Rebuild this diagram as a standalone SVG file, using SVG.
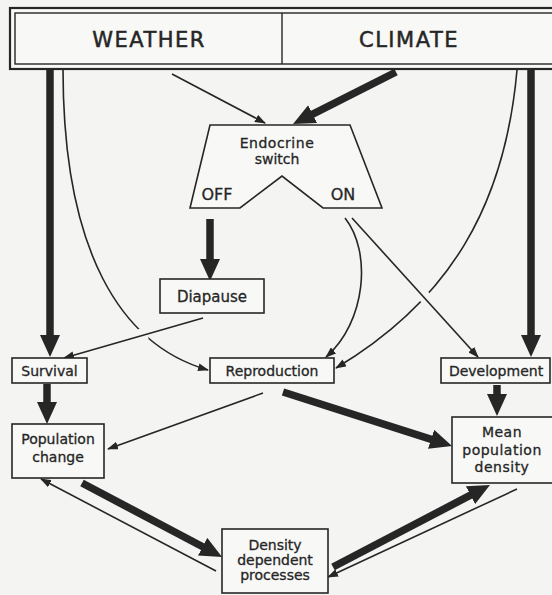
<svg xmlns="http://www.w3.org/2000/svg" width="552" height="595" viewBox="0 0 552 595">
<style>
.bg{fill:#f4f4f2}
.box{fill:#f8f8f6;stroke:#262626;stroke-width:1.6}
.t{font-family:"DejaVu Sans",sans-serif;font-size:14px;fill:#262626;stroke:#262626;stroke-width:0.3;text-anchor:middle}
.big{font-size:21px;letter-spacing:1.5px;stroke-width:0.5}
.thin{fill:none;stroke:#262626;stroke-width:1.6}
.thick{fill:none;stroke:#262626;stroke-width:7.5}
.halo{fill:none;stroke:#f4f4f2;stroke-width:12}
</style>
<defs>
<marker id="ah" viewBox="0 0 22 20" refX="6" refY="10" markerWidth="22" markerHeight="20" markerUnits="userSpaceOnUse" orient="auto">
<path d="M0,0 L22,10 L0,20 z" fill="#262626"/>
</marker>
<marker id="as" viewBox="0 0 11 8" refX="10" refY="4" markerWidth="11" markerHeight="8" markerUnits="userSpaceOnUse" orient="auto">
<path d="M0,0 L11,4 L0,8 z" fill="#262626"/>
</marker>
</defs>
<rect class="bg" x="0" y="0" width="552" height="595"/>

<g id="connectors">
<path class="thin" d="M63,69 C63,250 120,345 208,370" marker-end="url(#as)"/>
<path class="thin" d="M517,70 C505,205 450,300 336,368" marker-end="url(#as)"/>
<path class="thin" d="M345,218 C372,252 366,322 326,357" marker-end="url(#as)"/>
<line class="halo" x1="147" y1="333" x2="119" y2="341"/>
<line class="halo" x1="415" y1="286" x2="430" y2="303"/>
<line class="thin" x1="172" y1="74" x2="265" y2="123" marker-end="url(#as)"/>
<line class="thin" x1="203" y1="318" x2="64" y2="358" marker-end="url(#as)"/>
<line class="thin" x1="352" y1="218" x2="478" y2="357" marker-end="url(#as)"/>
<line class="thin" x1="263" y1="393" x2="108" y2="449" marker-end="url(#as)"/>
<line class="thin" x1="216" y1="571" x2="41" y2="479" marker-end="url(#as)"/>
<line class="thin" x1="517" y1="489" x2="328" y2="577" marker-end="url(#as)"/>
<line class="thick" x1="50" y1="69" x2="50" y2="341" marker-end="url(#ah)"/>
<line class="thick" x1="531" y1="69" x2="531" y2="341" marker-end="url(#ah)"/>
<line class="thick" x1="396" y1="72" x2="307.3" y2="116.8" marker-end="url(#ah)"/>
<line class="thick" x1="210" y1="219" x2="210" y2="265" marker-end="url(#ah)"/>
<line class="thick" x1="47" y1="384" x2="47" y2="408" marker-end="url(#ah)"/>
<line class="thick" x1="283" y1="392" x2="436.8" y2="441.1" marker-end="url(#ah)"/>
<line class="thick" x1="497" y1="385" x2="497" y2="400" marker-end="url(#ah)"/>
<line class="thick" x1="82" y1="483" x2="207.9" y2="549.5" marker-end="url(#ah)"/>
<line class="thick" x1="333" y1="567" x2="475.8" y2="492.4" marker-end="url(#ah)"/>
</g>

<g id="weather-climate">
<rect x="10" y="8" width="560" height="61" fill="#f8f8f6" stroke="#262626" stroke-width="2.2"/>
<rect x="15" y="13" width="560" height="51" fill="none" stroke="#262626" stroke-width="1.4"/>
<line x1="282" y1="13" x2="282" y2="64" stroke="#262626" stroke-width="1.4"/>
<text class="t big" x="149" y="47">WEATHER</text>
<text class="t big" x="409" y="47">CLIMATE</text>
</g>

<g id="endocrine">
<polygon class="box" points="210,125 350,125 382,208 323,208 282,176 240,208 190,208"/>
<text class="t" x="277" y="148" style="letter-spacing:0.5px">Endocrine</text>
<text class="t" x="277" y="164">switch</text>
<text class="t" x="217" y="200" style="font-size:16px">OFF</text>
<text class="t" x="343" y="200" style="font-size:16px">ON</text>
</g>

<g id="diapause">
<rect class="box" x="160" y="279" width="104" height="34"/>
<text class="t" x="212" y="302" style="font-size:15px">Diapause</text>
</g>

<g id="survival">
<rect class="box" x="12" y="358" width="75" height="25"/>
<text class="t" x="49.5" y="376">Survival</text>
</g>

<g id="reproduction">
<rect class="box" x="210" y="358" width="124" height="25"/>
<text class="t" x="272" y="376">Reproduction</text>
</g>

<g id="development">
<rect class="box" x="441" y="358" width="109" height="25"/>
<text class="t" x="496" y="376">Development</text>
</g>

<g id="population-change">
<rect class="box" x="12" y="424" width="92" height="54"/>
<text class="t" x="58" y="444">Population</text>
<text class="t" x="58" y="462">change</text>
</g>

<g id="mean-density">
<rect class="box" x="452" y="417" width="110" height="66"/>
<text class="t" x="502" y="437" style="letter-spacing:0.5px">Mean</text>
<text class="t" x="502" y="455" style="letter-spacing:0.5px">population</text>
<text class="t" x="502" y="472" style="letter-spacing:0.5px">density</text>
</g>

<g id="density-dependent">
<rect class="box" x="222" y="529" width="106" height="64"/>
<text class="t" x="275" y="550">Density</text>
<text class="t" x="275" y="565">dependent</text>
<text class="t" x="275" y="580">processes</text>
</g>
</svg>
